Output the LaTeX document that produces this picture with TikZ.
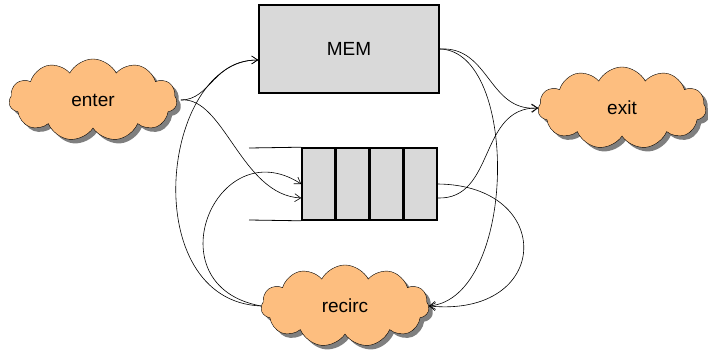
\documentclass[tikz,border=0pt]{standalone}
\usepackage{fontspec}
\setmainfont{Liberation Sans}
\usepackage{tikz}
\usetikzlibrary{shapes.symbols, arrows.meta, positioning, shadows}
\definecolor{cloudfill}{HTML}{FDBE7F}
\definecolor{boxfill}{HTML}{D9D9D9}
\definecolor{shadowgray}{HTML}{7F7F7F}

\begin{document}
\begin{tikzpicture}[
    x=1pt, y=1pt,
    every node/.style = {font=\fontsize{19}{22}\selectfont},
    puff/.style = {cloud, cloud puffs=11, cloud puff arc=125, draw, fill=cloudfill,
                   minimum width=168pt, minimum height=82pt, inner sep=0pt,
                   drop shadow={shadow xshift=4pt, shadow yshift=-4pt, fill=shadowgray, opacity=1}},
    store/.style = {rectangle, draw, line width=1.6pt, fill=boxfill},
    cell/.style = {store, minimum width=32.5pt, minimum height=72pt, inner sep=0pt},
    link/.style = {-{Straight Barb[length=6pt, width=8pt]}, line width=0.6pt}
  ]
    \useasboundingbox (0,0) rectangle (708,351);

    % Clouds
    \node[puff] (enter) at (93,251) {enter};
    \node[puff] (exit) at (622,243) {exit};
    \node[puff] (recirc) at (345,45) {recirc};

    % Memory
    \node[store, minimum width=180pt, minimum height=88pt] (mem) at (349,302) {MEM};

    % Queue
    \node[cell] (q1) at (318.25,167) {};
    \node[cell, right=0pt of q1] (q2) {};
    \node[cell, right=0pt of q2] (q3) {};
    \node[cell, right=0pt of q3] (q4) {};
    \coordinate (qtop) at (249,203);
    \coordinate (qbot) at (249,131);
    \draw[line width=0.8pt] (qtop) -- (q1.north west);
    \draw[line width=0.8pt] (qbot) -- (q1.south west);

    % Arrows
    \draw[link] ([xshift=4pt]enter.east) .. controls +(30,0) and +(-45,0) .. ([yshift=-11pt]mem.west);
    \draw[link] (recirc.west) .. controls +(-125,5) and +(-98,0) .. ([yshift=-11pt]mem.west);
    \draw[link] ([xshift=4pt]enter.east) .. controls +(43,4) and +(-60,3) .. ([yshift=-14pt]q1.west);
    \draw[link] (recirc.west) .. controls +(-110,20) and +(-85,55) .. (q1.west);
    \draw[link] (mem.east) .. controls +(50,3) and +(-50,-4) .. (exit.west);
    \draw[link] (mem.east) .. controls +(80,-2) and +(88,8) .. (recirc.east);
    \draw[link] ([yshift=-14pt]q4.east) .. controls +(58,-2) and +(-60,1) .. (exit.west);
    \draw[link] (q4.east) .. controls +(118,-1) and +(123,-12) .. (recirc.east);

  \end{tikzpicture}
\end{document}
